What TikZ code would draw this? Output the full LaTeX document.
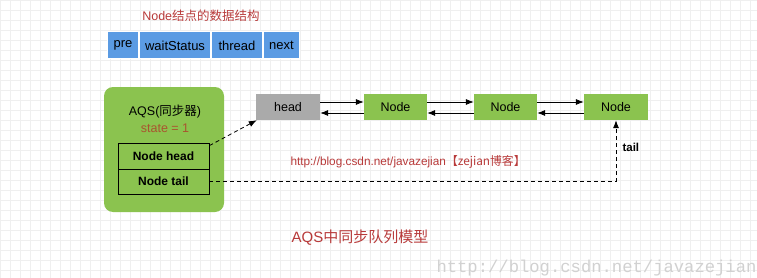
\documentclass[tikz,border=0pt]{standalone}
\usepackage{fontspec}
\setmainfont{Liberation Sans}
\newfontfamily\cjk{Noto Sans CJK SC}
\newfontfamily\wmfont{Liberation Mono}
\usetikzlibrary{arrows.meta}
\definecolor{nblue}{HTML}{5B9BE3}
\definecolor{ngreen}{HTML}{8BC34F}
\definecolor{ngray}{HTML}{AAAAAA}
\definecolor{tred}{HTML}{B83A3A}
\definecolor{sbrown}{HTML}{A9552F}
\definecolor{gridc}{HTML}{EFEFEF}
\tikzset{
  fieldbox/.style={fill=nblue, draw=white, line width=1pt, minimum height=27pt, inner sep=0pt, anchor=west, font=\fontsize{13}{15}\selectfont},
  listbox/.style={minimum width=63pt, minimum height=26pt, inner sep=0pt, font=\fontsize{12.5}{14}\selectfont},
  slotbox/.style={draw=black, line width=0.8pt, minimum width=91pt, inner sep=0pt, font=\bfseries\fontsize{12}{14}\selectfont},
  arr/.style={-{Latex[length=8pt,width=6pt]}, line width=0.7pt},
  dasharr/.style={-{Latex[length=8pt,width=6pt]}, line width=0.8pt, dashed, dash pattern=on 4pt off 3pt}
}
\begin{document}
\begin{tikzpicture}[x=1pt,y=-1pt]
\useasboundingbox (0,0) rectangle (757,278);
\fill[white] (0,0) rectangle (757,278);
\draw[gridc, line width=0.5pt, step=10pt] (0,0) grid (757,278);

% data structure
\node[text=tred, font=\fontsize{12.5}{14}\selectfont] (t1) at (201,16) {Node{\cjk 结点的数据结构}};
\node[fieldbox, minimum width=31pt] (pre) at (107,45.5) {pre};
\node[fieldbox, minimum width=71pt] (ws) at (pre.east) {waitStatus};
\node[fieldbox, minimum width=51pt] (th) at (ws.east) {thread};
\node[fieldbox, minimum width=36pt] (nx) at (th.east) {next};

% AQS box
\node[fill=ngreen, rounded corners=9pt, minimum width=120pt, minimum height=125pt, inner sep=0pt] (aqs) at (164,149.5) {};
\node[font=\fontsize{12.5}{14}\selectfont] (aqsl) at (165,112) {AQS({\cjk 同步器})};
\node[text=sbrown, font=\fontsize{12.5}{14}\selectfont] (st) at (165,128) {state = 1};
\node[slotbox, minimum height=26pt] (nh) at (163.5,156) {Node head};
\node[slotbox, minimum height=25pt] (nt) at (163.5,181.5) {Node tail};

% queue
\node[listbox, fill=ngray, minimum width=64pt] (hd) at (288,107) {head};
\node[listbox, fill=ngreen] (n1) at (395.5,107) {Node};
\node[listbox, fill=ngreen] (n2) at (505.5,107) {Node};
\node[listbox, fill=ngreen, minimum width=64pt] (n3) at (616,107) {Node};

\draw[arr] ([yshift=5pt]hd.east) -- ([yshift=5pt]n1.west);
\draw[arr] ([yshift=-6pt]n1.west) -- ([yshift=-6pt]hd.east);
\draw[arr] ([yshift=5pt]n1.east) -- ([yshift=5pt]n2.west);
\draw[arr] ([yshift=-6pt]n2.west) -- ([yshift=-6pt]n1.east);
\draw[arr] ([yshift=5pt]n2.east) -- ([yshift=5pt]n3.west);
\draw[arr] ([yshift=-6pt]n3.west) -- ([yshift=-6pt]n2.east);

\draw[dasharr] ([yshift=-3pt]nh.north east) -- ([xshift=1pt]hd.south west);
\draw[dasharr] (nt.east) -| (n3.south);
\node[anchor=west, font=\bfseries\fontsize{11.5}{13}\selectfont] (tl) at (619,147) {tail};

\node[anchor=west, text=tred, font=\fontsize{11.8}{13}\selectfont] (url) at (287,162) {http://blog.csdn.net/javazejian{\cjk 【zejian博客】}};

\node[text=tred, font=\fontsize{15}{17}\selectfont] (t2) at (360,238) {AQS{\cjk 中同步队列模型}};

\node[anchor=west, text=black!18, font=\wmfont\fontsize{17.2}{19}\selectfont] (wm) at (433,268) {http://blog.csdn.net/javazejian};
\end{tikzpicture}
\end{document}
